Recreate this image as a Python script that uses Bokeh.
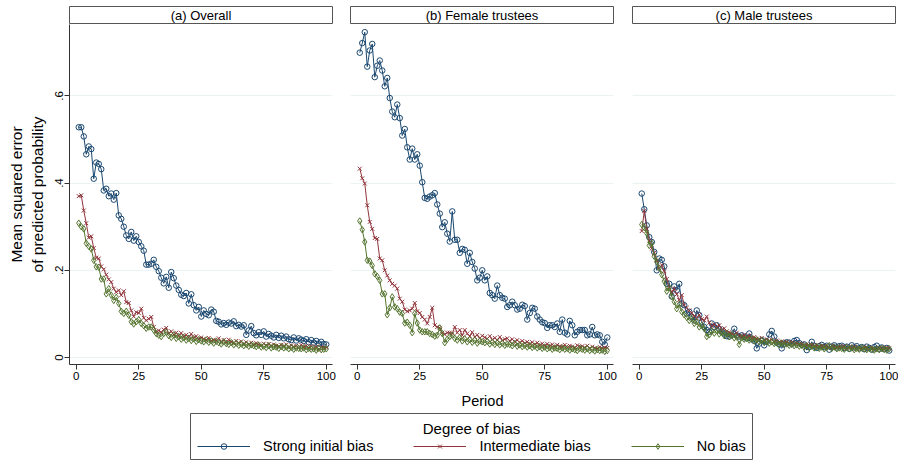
from bokeh.plotting import figure
from bokeh.models import Range1d, FixedTicker, Label, Legend, LegendItem, Spacer
from bokeh.layouts import column, row
from bokeh.embed import file_html
from bokeh.resources import INLINE

# ---------------- data ----------------
period = list(range(1, 101))

overall_strong = [
    .528, .528, .507, .466, .484, .478, .410, .447, .444, .432,
    .383, .387, .370, .376, .362, .377, .326, .318, .300, .280,
    .272, .288, .268, .278, .265, .255, .245, .213, .213, .215,
    .224, .208, .198, .183, .170, .185, .160, .196, .182, .165,
    .155, .144, .141, .148, .124, .145, .120, .108, .116, .094,
    .108, .100, .097, .110, .105, .084, .082, .076, .079, .075,
    .080, .078, .083, .072, .075, .071, .074, .052, .062, .072,
    .056, .051, .058, .052, .060, .048, .054, .050, .046, .052,
    .045, .050, .044, .048, .042, .040, .046, .039, .044, .041,
    .038, .042, .035, .040, .034, .038, .032, .036, .031, .030]
overall_inter = [
    .370, .372, .337, .308, .275, .278, .251, .229, .227, .209,
    .202, .190, .179, .173, .158, .150, .154, .143, .152, .127,
    .125, .108, .094, .104, .102, .112, .091, .085, .089, .093,
    .070, .058, .062, .058, .064, .068, .055, .060, .052, .057,
    .050, .056, .048, .052, .046, .054, .044, .049, .042, .046,
    .043, .040, .045, .038, .041, .039, .044, .036, .040, .035,
    .041, .036, .033, .038, .034, .037, .031, .035, .030, .034,
    .029, .033, .030, .027, .032, .028, .031, .026, .030, .027,
    .025, .029, .026, .030, .024, .028, .025, .027, .023, .029,
    .024, .027, .022, .026, .021, .025, .019, .024, .022, .023]
overall_none = [
    .308, .300, .295, .262, .255, .249, .223, .208, .207, .180,
    .180, .146, .158, .143, .131, .138, .124, .106, .101, .106,
    .097, .082, .077, .082, .087, .078, .073, .067, .070, .070,
    .063, .055, .051, .048, .055, .058, .050, .046, .052, .044,
    .048, .042, .046, .040, .044, .039, .043, .037, .041, .038,
    .036, .040, .035, .038, .033, .037, .034, .031, .036, .032,
    .030, .034, .029, .033, .028, .031, .027, .030, .026, .029,
    .027, .025, .028, .024, .026, .023, .027, .022, .025, .024,
    .021, .025, .022, .024, .020, .023, .019, .022, .021, .020,
    .022, .018, .021, .019, .020, .017, .021, .018, .019, .020]

female_strong = [
    .699, .721, .746, .667, .704, .719, .643, .669, .681, .658,
    .622, .641, .595, .564, .551, .580, .549, .509, .524, .482,
    .454, .479, .454, .466, .440, .402, .366, .364, .369, .372,
    .377, .351, .330, .299, .310, .284, .266, .335, .270, .270,
    .240, .249, .247, .215, .240, .219, .204, .177, .183, .200,
    .177, .186, .148, .143, .135, .165, .143, .137, .135, .116,
    .120, .128, .120, .110, .112, .121, .118, .087, .102, .114,
    .112, .094, .087, .081, .079, .068, .074, .074, .070, .078,
    .059, .087, .057, .053, .084, .074, .051, .059, .063, .063,
    .063, .051, .053, .070, .051, .053, .051, .036, .030, .046]
female_inter = [
    .433, .411, .399, .349, .311, .295, .274, .272, .227, .223,
    .200, .188, .177, .169, .165, .158, .135, .128, .110, .106,
    .108, .112, .125, .106, .102, .093, .087, .078, .093, .114,
    .074, .070, .068, .057, .053, .057, .057, .055, .070, .057,
    .063, .051, .063, .055, .049, .058, .047, .052, .044, .050,
    .046, .043, .049, .041, .045, .040, .047, .039, .042, .044,
    .038, .042, .036, .040, .034, .038, .033, .036, .031, .035,
    .030, .034, .028, .032, .027, .031, .026, .030, .025, .029,
    .026, .024, .029, .023, .027, .025, .022, .028, .024, .026,
    .023, .027, .021, .025, .022, .020, .024, .021, .023, .022]
female_none = [
    .313, .293, .265, .223, .221, .211, .192, .186, .177, .146,
    .146, .098, .114, .139, .116, .112, .104, .101, .079, .081,
    .074, .057, .101, .079, .063, .059, .059, .059, .055, .053,
    .049, .051, .068, .055, .034, .042, .048, .051, .044, .040,
    .046, .038, .043, .036, .041, .035, .040, .033, .038, .036,
    .034, .037, .031, .035, .030, .034, .029, .033, .028, .031,
    .030, .027, .032, .026, .029, .025, .028, .024, .027, .023,
    .026, .022, .025, .021, .024, .020, .023, .019, .022, .021,
    .018, .022, .019, .021, .017, .020, .018, .016, .021, .019,
    .017, .020, .016, .019, .015, .018, .016, .017, .014, .016]

male_strong = [
    .376, .340, .303, .276, .265, .242, .200, .227, .224, .209,
    .169, .169, .140, .163, .154, .169, .124, .120, .101, .105,
    .093, .085, .108, .097, .082, .070, .063, .059, .078, .070,
    .074, .066, .059, .055, .049, .048, .052, .066, .051, .048,
    .051, .047, .044, .055, .042, .038, .021, .032, .040, .028,
    .036, .053, .061, .048, .034, .030, .021, .032, .035, .034,
    .031, .038, .040, .033, .029, .030, .017, .024, .036, .027,
    .022, .026, .029, .024, .027, .018, .025, .028, .023, .026,
    .027, .022, .025, .020, .028, .023, .026, .021, .024, .019,
    .025, .022, .018, .024, .027, .020, .023, .019, .022, .016]
male_inter = [
    .290, .336, .295, .268, .250, .240, .222, .205, .212, .198,
    .180, .160, .150, .158, .145, .132, .143, .120, .114, .108,
    .102, .095, .090, .098, .088, .085, .094, .080, .072, .076,
    .070, .074, .063, .067, .060, .058, .055, .052, .057, .050,
    .048, .052, .046, .050, .044, .047, .043, .041, .045, .040,
    .042, .038, .041, .036, .039, .035, .037, .034, .036, .033,
    .035, .031, .033, .030, .032, .028, .030, .027, .029, .026,
    .028, .025, .027, .024, .026, .023, .027, .024, .022, .025,
    .023, .026, .021, .024, .022, .025, .020, .023, .021, .024,
    .022, .019, .023, .020, .018, .022, .021, .019, .023, .021]
male_none = [
    .305, .298, .285, .257, .262, .232, .220, .205, .190, .175,
    .152, .160, .140, .128, .112, .122, .105, .098, .092, .085,
    .090, .078, .082, .070, .074, .066, .048, .052, .060, .056,
    .062, .054, .058, .050, .055, .048, .052, .045, .047, .030,
    .045, .042, .044, .040, .043, .038, .041, .036, .039, .035,
    .037, .033, .036, .032, .034, .030, .033, .029, .031, .028,
    .030, .027, .029, .026, .028, .024, .027, .023, .026, .022,
    .025, .021, .024, .020, .023, .027, .021, .024, .020, .022,
    .021, .019, .023, .020, .022, .018, .021, .019, .022, .020,
    .018, .021, .019, .017, .020, .018, .021, .019, .017, .020]

panel_titles = ["(a) Overall", "(b) Female trustees", "(c) Male trustees"]
panel_data = [
    (overall_strong, overall_inter, overall_none),
    (female_strong, female_inter, female_none),
    (male_strong, male_inter, male_none),
]
series_names = ["Strong initial bias", "Intermediate bias", "No bias"]
x_ticks = [0, 25, 50, 75, 100]
y_ticks = [0, 0.2, 0.4, 0.6]
y_tick_labels = {0: "0", 0.2: ".2", 0.4: ".4", 0.6: ".6"}

# ---------------- style ----------------
FONT = "Liberation Sans"
COLORS = ["#1A476F", "#90353B", "#55752F"]
MARKERS = ["circle", "x", "diamond"]
MSIZE = [5.5, 5.5, 6.5]
GRID = "#EAF2F3"
AXIS = "#333333"
FRAME_W = 263
BORDERS = [(69, 9), (9, 9), (10, 3)]
XR = (-2.7, 102.5)
YR = (-0.016, 0.7636)
TOTAL_W = 898


def add_series(p, xs, ys, k):
    p.line(xs, ys, line_color=COLORS[k], line_width=1)
    p.scatter(xs, ys, marker=MARKERS[k], size=MSIZE[k], line_color=COLORS[k],
              fill_color=None, line_width=1)


strips = []
panels = []
for i, title in enumerate(panel_titles):
    left, right = BORDERS[i]
    w = left + FRAME_W + right
    # strip header
    s = figure(width=w, height=24, x_range=Range1d(0, 1), y_range=Range1d(0, 1),
               output_backend="svg", toolbar_location=None,
               min_border_left=left, min_border_right=right,
               min_border_top=6, min_border_bottom=0,
               x_axis_location=None, y_axis_location=None)
    s.grid.visible = False
    s.outline_line_color = "#555555"
    s.outline_line_width = 1
    s.background_fill_color = "white"
    s.border_fill_color = "white"
    s.add_layout(Label(x=0.5, y=0.5, text=title, text_align="center",
                       text_baseline="middle", text_font=FONT,
                       text_font_size="13px", text_color="black"))
    strips.append(s)

    # panel
    p = figure(width=w, height=362, x_range=Range1d(*XR), y_range=Range1d(*YR),
               output_backend="svg", toolbar_location=None,
               min_border_left=left, min_border_right=right,
               min_border_top=0, min_border_bottom=22,
               y_axis_location="left" if i == 0 else None)
    p.outline_line_color = None
    p.background_fill_color = "white"
    p.border_fill_color = "white"
    p.xgrid.visible = False
    p.ygrid[0].ticker = FixedTicker(ticks=y_ticks)
    p.ygrid.grid_line_color = GRID
    p.ygrid.grid_line_width = 1

    p.xaxis.ticker = FixedTicker(ticks=x_ticks)
    p.xaxis.minor_tick_line_color = None
    p.xaxis.major_tick_in = 0
    p.xaxis.major_tick_out = 5
    p.xaxis.major_label_standoff = 2
    p.xaxis.axis_line_color = AXIS
    p.xaxis.major_tick_line_color = AXIS
    p.xaxis.major_label_text_font = FONT
    p.xaxis.major_label_text_font_size = "11.5px"
    p.xaxis.major_label_text_color = "black"

    if i == 0:
        ya = p.yaxis[0]
        ya.ticker = FixedTicker(ticks=y_ticks)
        ya.major_label_overrides = y_tick_labels
        ya.minor_tick_line_color = None
        ya.major_tick_in = 0
        ya.major_tick_out = 5
        ya.major_label_standoff = 1
        ya.major_label_orientation = "vertical"
        ya.axis_line_color = AXIS
        ya.major_tick_line_color = AXIS
        ya.major_label_text_font = FONT
        ya.major_label_text_font_size = "11.5px"
        ya.major_label_text_color = "black"
        ya.axis_label = "Mean squared error\nof predicted probability"
        ya.axis_label_text_font = FONT
        ya.axis_label_text_font_style = "normal"
        ya.axis_label_text_font_size = "15.5px"
        ya.axis_label_text_color = "black"
        ya.axis_label_standoff = 7

    for k, ys in enumerate(panel_data[i]):
        add_series(p, period, ys, k)
    panels.append(p)

# x-axis title
PH = 26
per = figure(width=TOTAL_W, height=PH, x_range=Range1d(0, TOTAL_W), y_range=Range1d(0, PH),
             output_backend="svg", toolbar_location=None,
             min_border_left=0, min_border_right=0, min_border_top=0, min_border_bottom=0,
             x_axis_location=None, y_axis_location=None)
per.grid.visible = False
per.outline_line_color = None
per.border_fill_color = "white"
per.background_fill_color = "white"
per.add_layout(Label(x=482, y=PH - 14, text="Period",
                     text_align="center", text_baseline="middle", text_font=FONT,
                     text_font_size="14.5px", text_color="black"))

# legend box
LW, LH = 562, 46
LEFT_GAP = 189
lg = figure(width=LW + 2, height=LH + 4, x_range=Range1d(0, LW), y_range=Range1d(0, LH),
            output_backend="svg", toolbar_location=None,
            min_border_left=1, min_border_right=1, min_border_top=1, min_border_bottom=3,
            x_axis_location=None, y_axis_location=None)
lg.grid.visible = False
lg.outline_line_color = "#555555"
lg.outline_line_width = 1
lg.border_fill_color = "white"
lg.background_fill_color = "white"
lg.add_layout(Label(x=LW / 2, y=LH - 15, text="Degree of bias", text_align="center",
                    text_baseline="middle", text_font=FONT, text_font_size="15px",
                    text_color="black"))
nan = float("nan")
items = []
for k, name in enumerate(series_names):
    r1 = lg.line([nan, nan], [nan, nan], line_color=COLORS[k], line_width=1)
    r2 = lg.scatter([nan], [nan], marker=MARKERS[k], size=MSIZE[k] - 0.5, line_color=COLORS[k],
                    fill_color=None, line_width=1)
    items.append(LegendItem(label=name, renderers=[r1, r2]))
legend = Legend(items=items, orientation="horizontal", location=(7, 3),
                glyph_width=53, glyph_height=14, label_standoff=13, spacing=40,
                padding=0, margin=0, border_line_color=None, background_fill_alpha=0,
                label_text_font=FONT, label_text_font_size="14.5px",
                label_text_color="black", label_height=20)
lg.add_layout(legend, "center")

layout = column(
    row(*strips, spacing=0),
    row(*panels, spacing=0),
    per,
    row(Spacer(width=LEFT_GAP, height=LH + 4), lg,
        Spacer(width=TOTAL_W - LEFT_GAP - LW - 2, height=LH + 4), spacing=0),
    spacing=0,
)

open("out.html", "w").write(file_html(layout, INLINE))
